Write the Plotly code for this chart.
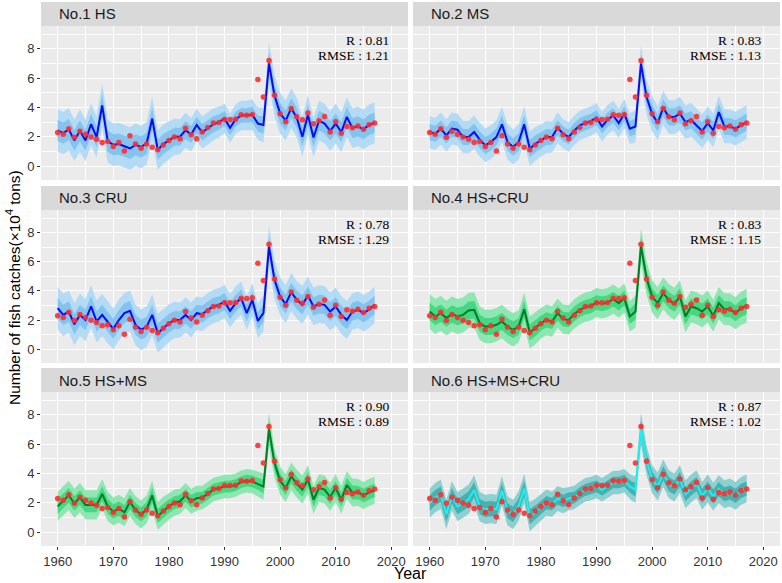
#Import required libraries
import plotly.graph_objects as go
from plotly.subplots import make_subplots

#Data (catches in 10^4 tons)
years = list(range(1960, 2018))

observed = [2.29, 2.17, 2.54, 1.97, 2.38, 2.17, 1.99, 1.83, 1.60, 1.67,
            1.33, 1.60, 1.03, 2.06, 1.51, 1.21, 1.51, 1.28, 1.12, 1.44,
            1.74, 1.99, 1.87, 2.58, 2.13, 1.87, 2.33, 2.63, 2.93, 2.97,
            3.18, 3.18, 3.20, 3.50, 3.47, 3.52, 5.90, 4.71, 7.20, 4.82,
            3.57, 3.02, 3.93, 3.36, 3.15, 3.61, 2.88, 3.09, 3.38, 2.33,
            3.02, 2.24, 2.70, 2.61, 2.74, 2.51, 2.81, 2.93]

panel_names = ["No.1 HS", "No.2 MS", "No.3 CRU", "No.4 HS+CRU", "No.5 HS+MS", "No.6 HS+MS+CRU"]
r_values = ["0.81", "0.83", "0.78", "0.83", "0.90", "0.87"]
rmse_values = ["1.21", "1.13", "1.29", "1.15", "0.89", "1.02"]

#Posterior mean of each model
fit_hs = [2.43, 2.25, 2.50, 1.75, 2.40, 1.75, 2.85, 1.98, 4.14, 1.70,
          1.45, 1.50, 1.35, 1.20, 1.45, 1.30, 1.55, 3.23, 1.10, 1.50,
          1.75, 2.00, 2.00, 2.45, 2.15, 2.80, 2.30, 2.60, 2.85, 3.00,
          3.25, 2.60, 3.20, 3.45, 3.45, 3.50, 2.90, 2.80, 7.00, 4.80,
          3.60, 3.10, 3.95, 3.30, 2.00, 3.50, 1.95, 3.10, 2.90, 2.40,
          2.90, 2.30, 3.35, 2.60, 2.70, 2.50, 2.80, 2.95]
fit_ms = [2.32, 2.20, 2.55, 2.09, 2.55, 2.48, 1.98, 1.98, 2.32, 1.80,
          1.41, 1.64, 1.98, 2.84, 1.64, 1.30, 1.64, 2.84, 1.18, 1.52,
          1.75, 1.98, 1.98, 2.61, 2.20, 1.98, 2.43, 2.77, 2.93, 3.07,
          3.30, 2.70, 3.16, 3.45, 2.93, 3.57, 2.55, 2.70, 6.98, 4.70,
          3.57, 2.93, 3.98, 3.34, 3.34, 3.57, 3.00, 3.16, 2.77, 2.39,
          2.93, 2.43, 3.68, 2.70, 2.70, 2.55, 2.77, 3.00]
fit_cru = [2.81, 2.35, 2.58, 1.71, 2.35, 2.00, 2.93, 1.90, 2.35, 1.85,
           1.39, 2.00, 2.47, 2.63, 1.67, 1.33, 1.55, 2.35, 1.10, 1.44,
           1.78, 2.00, 2.00, 2.35, 2.00, 2.47, 2.40, 2.70, 2.93, 3.04,
           3.27, 2.63, 3.15, 3.50, 2.47, 3.38, 1.94, 2.47, 7.04, 4.75,
           3.61, 3.09, 3.91, 3.38, 3.04, 3.68, 2.93, 3.09, 3.04, 2.58,
           2.93, 2.35, 2.00, 2.58, 2.70, 2.47, 2.70, 3.04]
fit_hs_cru = [2.58, 2.24, 2.47, 2.13, 2.42, 2.24, 2.35, 2.65, 2.70, 1.78,
              1.55, 1.55, 1.67, 1.90, 1.55, 1.33, 1.55, 2.74, 1.14, 1.44,
              1.78, 2.01, 1.90, 2.47, 2.06, 2.01, 2.42, 2.70, 2.88, 2.97,
              3.20, 3.11, 3.20, 3.43, 3.16, 3.50, 2.24, 2.58, 7.09, 4.87,
              3.61, 3.16, 3.84, 3.38, 3.11, 3.61, 2.24, 2.93, 2.81, 2.58,
              2.93, 2.29, 3.16, 2.74, 2.74, 2.47, 2.81, 2.97]
fit_hs_ms = [1.75, 2.10, 2.50, 1.95, 2.35, 1.85, 1.85, 1.85, 2.60, 1.75,
             1.40, 1.60, 1.35, 2.05, 1.50, 1.20, 1.55, 2.50, 1.10, 1.45,
             1.75, 2.00, 2.10, 2.50, 2.10, 2.30, 2.35, 2.60, 2.90, 3.00,
             3.10, 3.10, 3.20, 3.40, 3.50, 3.45, 3.30, 3.10, 7.00, 4.70,
             3.50, 3.00, 3.80, 3.30, 2.90, 3.60, 2.20, 3.00, 2.90, 2.40,
             3.00, 2.20, 3.20, 2.70, 2.70, 2.50, 2.70, 2.85]
fit_all = [1.97, 2.35, 2.58, 1.21, 2.47, 1.74, 1.97, 2.24, 2.88, 1.74,
           1.55, 1.60, 1.55, 2.81, 1.44, 1.21, 1.78, 2.97, 1.05, 1.33,
           1.67, 2.01, 1.90, 2.29, 2.13, 2.29, 2.35, 2.65, 2.88, 2.97,
           3.11, 2.88, 3.11, 3.38, 3.38, 3.50, 3.11, 2.88, 7.04, 4.87,
           3.61, 3.11, 4.02, 3.27, 3.04, 3.61, 2.58, 2.97, 3.27, 2.47,
           2.97, 2.42, 2.93, 2.58, 2.70, 2.47, 2.81, 2.97]

#Half widths of the outer and inner credible bands
outer_hs = [1.45, 1.45, 1.45, 1.40, 1.45, 1.40, 1.45, 1.40, 1.50, 1.45,
            1.45, 1.45, 1.45, 1.45, 1.45, 1.45, 1.45, 1.50, 1.35, 1.35,
            1.30, 1.25, 1.20, 1.20, 1.15, 1.10, 1.10, 1.10, 1.10, 1.05,
            1.00, 1.00, 1.00, 1.00, 1.00, 1.05, 1.10, 1.20, 1.45, 1.40,
            1.40, 1.35, 1.35, 1.35, 1.35, 1.35, 1.35, 1.35, 1.35, 1.35,
            1.35, 1.35, 1.35, 1.35, 1.35, 1.35, 1.40, 1.40]
inner_hs = [0.72, 0.72, 0.72, 0.70, 0.72, 0.70, 0.72, 0.70, 0.75, 0.72,
            0.72, 0.72, 0.72, 0.72, 0.72, 0.72, 0.72, 0.75, 0.68, 0.68,
            0.65, 0.62, 0.60, 0.60, 0.58, 0.55, 0.55, 0.55, 0.55, 0.52,
            0.50, 0.50, 0.50, 0.50, 0.50, 0.52, 0.55, 0.60, 0.72, 0.70,
            0.70, 0.68, 0.68, 0.68, 0.68, 0.68, 0.68, 0.68, 0.68, 0.68,
            0.68, 0.68, 0.68, 0.68, 0.68, 0.68, 0.70, 0.70]
outer_ms = [1.10, 1.10, 1.10, 1.10, 1.10, 1.10, 1.10, 1.10, 1.15, 1.15,
            1.15, 1.15, 1.15, 1.20, 1.20, 1.20, 1.20, 1.25, 1.20, 1.15,
            1.10, 1.10, 1.05, 1.05, 1.00, 1.00, 1.00, 1.00, 1.00, 1.00,
            1.00, 1.00, 1.00, 1.00, 1.00, 1.00, 1.05, 1.10, 1.25, 1.20,
            1.20, 1.15, 1.15, 1.15, 1.15, 1.15, 1.15, 1.15, 1.15, 1.15,
            1.15, 1.15, 1.15, 1.15, 1.15, 1.15, 1.15, 1.15]
inner_ms = [0.55, 0.55, 0.55, 0.55, 0.55, 0.55, 0.55, 0.55, 0.58, 0.58,
            0.58, 0.58, 0.58, 0.60, 0.60, 0.60, 0.60, 0.62, 0.60, 0.58,
            0.55, 0.55, 0.52, 0.52, 0.50, 0.50, 0.50, 0.50, 0.50, 0.50,
            0.50, 0.50, 0.50, 0.50, 0.50, 0.50, 0.52, 0.55, 0.62, 0.60,
            0.60, 0.58, 0.58, 0.58, 0.58, 0.58, 0.58, 0.58, 0.58, 0.58,
            0.58, 0.58, 0.58, 0.58, 0.58, 0.58, 0.58, 0.58]
outer_cru = [1.45, 1.45, 1.45, 1.45, 1.45, 1.45, 1.45, 1.45, 1.45, 1.45,
             1.40, 1.40, 1.40, 1.40, 1.40, 1.40, 1.40, 1.40, 1.35, 1.30,
             1.30, 1.25, 1.20, 1.20, 1.20, 1.15, 1.15, 1.15, 1.15, 1.15,
             1.15, 1.15, 1.15, 1.15, 1.15, 1.15, 1.20, 1.25, 1.45, 1.35,
             1.30, 1.30, 1.30, 1.30, 1.30, 1.30, 1.30, 1.30, 1.30, 1.30,
             1.30, 1.30, 1.30, 1.25, 1.25, 1.25, 1.25, 1.25]
inner_cru = [0.70, 0.70, 0.70, 0.70, 0.70, 0.70, 0.70, 0.70, 0.70, 0.70,
             0.68, 0.68, 0.68, 0.68, 0.68, 0.68, 0.68, 0.68, 0.66, 0.64,
             0.64, 0.62, 0.60, 0.60, 0.60, 0.58, 0.58, 0.58, 0.58, 0.58,
             0.58, 0.58, 0.58, 0.58, 0.58, 0.58, 0.60, 0.62, 0.72, 0.66,
             0.64, 0.64, 0.64, 0.64, 0.64, 0.64, 0.64, 0.64, 0.64, 0.64,
             0.64, 0.64, 0.64, 0.62, 0.62, 0.62, 0.62, 0.62]
outer_hs_cru = [1.20, 1.20, 1.20, 1.20, 1.20, 1.20, 1.20, 1.20, 1.20, 1.15,
                1.15, 1.15, 1.15, 1.15, 1.15, 1.15, 1.10, 1.15, 1.10, 1.10,
                1.05, 1.05, 1.05, 1.00, 1.00, 1.00, 1.00, 1.00, 1.00, 1.00,
                1.00, 1.00, 1.00, 1.00, 1.00, 1.00, 1.05, 1.10, 1.20, 1.15,
                1.10, 1.10, 1.10, 1.10, 1.10, 1.10, 1.10, 1.10, 1.10, 1.10,
                1.10, 1.10, 1.10, 1.10, 1.10, 1.10, 1.15, 1.15]
inner_hs_cru = [0.60, 0.60, 0.60, 0.60, 0.60, 0.60, 0.60, 0.60, 0.60, 0.58,
                0.58, 0.58, 0.58, 0.58, 0.58, 0.58, 0.55, 0.58, 0.55, 0.55,
                0.52, 0.52, 0.52, 0.50, 0.50, 0.50, 0.50, 0.50, 0.50, 0.50,
                0.50, 0.50, 0.50, 0.50, 0.50, 0.50, 0.52, 0.55, 0.60, 0.58,
                0.55, 0.55, 0.55, 0.55, 0.55, 0.55, 0.55, 0.55, 0.55, 0.55,
                0.55, 0.55, 0.55, 0.55, 0.55, 0.55, 0.58, 0.58]
outer_hs_ms = [1.00, 1.00, 1.00, 1.00, 1.00, 1.00, 1.00, 1.00, 1.00, 1.00,
               0.95, 0.95, 0.95, 0.95, 0.95, 0.95, 0.95, 1.00, 0.95, 0.95,
               0.90, 0.90, 0.85, 0.85, 0.85, 0.85, 0.80, 0.80, 0.80, 0.80,
               0.80, 0.80, 0.80, 0.80, 0.80, 0.80, 0.85, 0.90, 1.15, 1.00,
               0.95, 0.95, 0.95, 0.95, 0.95, 0.95, 0.95, 0.95, 0.95, 0.95,
               0.95, 0.95, 0.95, 0.95, 0.92, 0.92, 0.92, 0.92]
inner_hs_ms = [0.50, 0.50, 0.50, 0.50, 0.50, 0.50, 0.50, 0.50, 0.50, 0.50,
               0.48, 0.48, 0.48, 0.48, 0.48, 0.48, 0.48, 0.50, 0.48, 0.48,
               0.45, 0.45, 0.42, 0.42, 0.42, 0.42, 0.40, 0.40, 0.40, 0.40,
               0.40, 0.40, 0.40, 0.40, 0.40, 0.40, 0.42, 0.45, 0.58, 0.50,
               0.48, 0.48, 0.48, 0.48, 0.48, 0.48, 0.48, 0.48, 0.48, 0.48,
               0.48, 0.48, 0.48, 0.48, 0.46, 0.46, 0.46, 0.46]
outer_all = [1.00, 1.00, 1.00, 1.00, 1.00, 1.00, 1.00, 1.00, 1.00, 1.00,
             1.00, 1.00, 1.00, 1.00, 1.00, 1.00, 1.00, 1.00, 1.00, 0.95,
             0.90, 0.90, 0.85, 0.85, 0.85, 0.80, 0.80, 0.80, 0.80, 0.80,
             0.80, 0.80, 0.80, 0.80, 0.80, 0.80, 0.85, 0.90, 1.10, 1.00,
             0.95, 0.95, 0.95, 0.95, 0.95, 0.95, 0.95, 0.95, 0.95, 0.95,
             0.95, 0.95, 0.95, 0.95, 0.95, 0.95, 0.95, 0.95]
inner_all = [0.52, 0.52, 0.52, 0.52, 0.52, 0.52, 0.52, 0.52, 0.52, 0.52,
             0.52, 0.52, 0.52, 0.52, 0.52, 0.52, 0.52, 0.52, 0.52, 0.48,
             0.45, 0.45, 0.42, 0.42, 0.42, 0.40, 0.40, 0.40, 0.40, 0.40,
             0.40, 0.40, 0.40, 0.40, 0.40, 0.40, 0.42, 0.45, 0.55, 0.50,
             0.48, 0.48, 0.48, 0.48, 0.48, 0.48, 0.48, 0.48, 0.48, 0.48,
             0.48, 0.48, 0.48, 0.48, 0.48, 0.48, 0.48, 0.48]

fits = [fit_hs, fit_ms, fit_cru, fit_hs_cru, fit_hs_ms, fit_all]
outers = [outer_hs, outer_ms, outer_cru, outer_hs_cru, outer_hs_ms, outer_all]
inners = [inner_hs, inner_ms, inner_cru, inner_hs_cru, inner_hs_ms, inner_all]

#Colours per model: (outer band, inner band, line)
blue = ("#B4DBF5", "#82C4EE", "#0A0AF5")
green = ("#8EE6B0", "#45D882", "#067A26")
teal = ("#8ECFCF", "#45B2B2", "#1EEFF0")
palettes = [blue, blue, blue, green, green, teal]

W, H = 782, 583
col_dom = [(41 / W, 408 / W), (413 / W, 780 / W)]
row_px = [(26, 180), (210, 363), (392, 546)]
row_dom = [(1 - b / H, 1 - t / H) for t, b in row_px]
strip_h = 24

fig = make_subplots(rows=3, cols=2)

for i in range(6):
    r, c = i // 2 + 1, i % 2 + 1
    out_col, in_col, line_col = palettes[i]
    fit, wo, wi = fits[i], outers[i], inners[i]
    lo_out = [f - w for f, w in zip(fit, wo)]
    hi_out = [f + w for f, w in zip(fit, wo)]
    lo_in = [f - w for f, w in zip(fit, wi)]
    hi_in = [f + w for f, w in zip(fit, wi)]

    fig.add_trace(go.Scatter(x=years, y=lo_out, mode="lines", line=dict(width=0),
                             showlegend=False, hoverinfo="skip"), row=r, col=c)
    fig.add_trace(go.Scatter(x=years, y=hi_out, mode="lines", line=dict(width=0),
                             fill="tonexty", fillcolor=out_col, showlegend=False,
                             hoverinfo="skip"), row=r, col=c)
    fig.add_trace(go.Scatter(x=years, y=lo_in, mode="lines", line=dict(width=0),
                             showlegend=False, hoverinfo="skip"), row=r, col=c)
    fig.add_trace(go.Scatter(x=years, y=hi_in, mode="lines", line=dict(width=0),
                             fill="tonexty", fillcolor=in_col, showlegend=False,
                             hoverinfo="skip"), row=r, col=c)
    fig.add_trace(go.Scatter(x=years, y=fit, mode="lines",
                             line=dict(color=line_col, width=2), showlegend=False),
                  row=r, col=c)
    fig.add_trace(go.Scatter(x=years, y=observed, mode="markers",
                             marker=dict(color="rgba(255,45,45,0.9)", size=5.5),
                             showlegend=False), row=r, col=c)

    n = "" if i == 0 else str(i + 1)
    fig.update_layout({
        "xaxis" + n: dict(domain=col_dom[c - 1], range=[1957, 2023],
                          tickvals=[1960, 1970, 1980, 1990, 2000, 2010, 2020],
                          showticklabels=(r == 3), ticks="outside" if r == 3 else "",
                          ticklen=3, tickcolor="#333333", tickfont=dict(size=13),
                          gridcolor="white", gridwidth=1.1, zeroline=False,
                          minor=dict(dtick=5, tick0=1960, showgrid=True,
                                     gridcolor="white", gridwidth=0.5)),
        "yaxis" + n: dict(domain=row_dom[r - 1], range=[-0.95, 9.55],
                          tickvals=[0, 2, 4, 6, 8],
                          showticklabels=(c == 1), ticks="outside" if c == 1 else "",
                          ticklen=3, tickcolor="#333333", tickfont=dict(size=13),
                          gridcolor="white", gridwidth=1.1, zeroline=False,
                          minor=dict(dtick=1, tick0=0, showgrid=True,
                                     gridcolor="white", gridwidth=0.5)),
    })

    #Facet strip
    x0, x1 = col_dom[c - 1]
    top_px = row_px[r - 1][0]
    fig.add_shape(type="rect", xref="paper", yref="paper",
                  x0=x0, x1=x1, y0=1 - top_px / H, y1=1 - (top_px - strip_h) / H,
                  fillcolor="#D9D9D9", line=dict(width=0), layer="below")
    fig.add_annotation(xref="paper", yref="paper", x=x0 + 16 / W,
                       y=1 - (top_px - strip_h / 2) / H, text=panel_names[i],
                       showarrow=False, xanchor="left", yanchor="middle",
                       font=dict(size=15, color="#1A1A1A"))

    #Fit statistics
    xr, yr = "x" + n, "y" + n
    fig.add_annotation(xref=xr, yref=yr, x=2020, y=8.57, text="R : " + r_values[i],
                       showarrow=False, xanchor="right", yanchor="middle",
                       font=dict(family="Liberation Serif, Times New Roman", size=13.5,
                                 color="black"))
    fig.add_annotation(xref=xr, yref=yr, x=2020, y=7.55, text="RMSE : " + rmse_values[i],
                       showarrow=False, xanchor="right", yanchor="middle",
                       font=dict(family="Liberation Serif, Times New Roman", size=13.5,
                                 color="black"))

#Axis titles
fig.add_annotation(xref="paper", yref="paper", x=13 / W, y=1 - 288 / H,
                   text="Number of fish catches(×10<sup>4</sup> tons)", textangle=-90,
                   showarrow=False, xanchor="center", yanchor="middle",
                   font=dict(size=15.5, color="black"))
fig.add_annotation(xref="paper", yref="paper", x=410 / W, y=1 - 573 / H,
                   text="Year", showarrow=False, xanchor="center", yanchor="middle",
                   font=dict(size=16, color="black"))

fig.update_layout(width=W, height=H, margin=dict(l=0, r=0, t=0, b=0),
                  plot_bgcolor="#EBEBEB", paper_bgcolor="white",
                  font=dict(family="Liberation Sans, Arial", size=12.5, color="#333333"),
                  showlegend=False)

#drop the default page margin so the figure sits at the window's corner
fig.write_html("out.html", config={"displayModeBar": False},
               post_script="document.body.style.margin='0';")
